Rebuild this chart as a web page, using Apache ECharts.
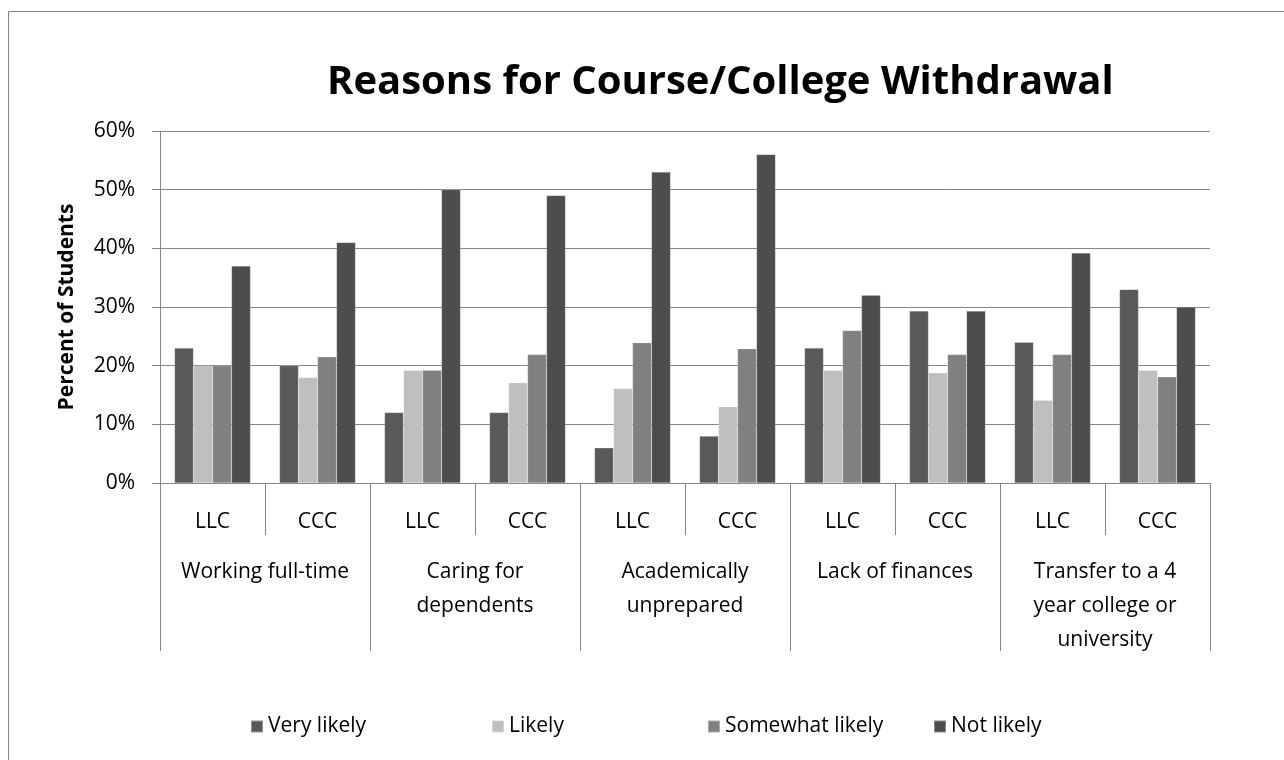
<!DOCTYPE html>
<html>
<head>
<meta charset="utf-8">
<title>Reasons for Course/College Withdrawal</title>
<script src="https://cdn.jsdelivr.net/npm/echarts@6/dist/echarts.min.js"></script>
<style>
  html, body { margin: 0; padding: 0; background: #fff; }
  #chart { width: 1284px; height: 760px; }
</style>
</head>
<body>
<div id="chart"></div>
<script>
// sub categories (college) and the reason groups they belong to
const colleges = ['LLC', 'CCC', 'LLC', 'CCC', 'LLC', 'CCC', 'LLC', 'CCC', 'LLC', 'CCC'];
const reasons = [
    'Working full-time',
    'Caring for\ndependents',
    'Academically\nunprepared',
    'Lack of finances',
    'Transfer to a 4\nyear college or\nuniversity'
];
const seriesNames = ['Very likely', 'Likely', 'Somewhat likely', 'Not likely'];

// percent of students
const veryLikely = [23, 20, 12, 12, 6, 8, 23, 29.3, 24, 33];
const likely = [20, 18, 19.2, 17.1, 16.1, 13, 19.2, 18.8, 14.1, 19.2];
const somewhatLikely = [20, 21.5, 19.2, 21.9, 23.9, 22.9, 26, 21.9, 21.9, 18.1];
const notLikely = [37, 41, 50, 49, 53, 56, 32, 29.3, 39.2, 30];

const yTicks = [0, 10, 20, 30, 40, 50, 60];

const colors = ['#595959', '#bfbfbf', '#808080', '#4d4d4d'];
const legendLeft = [245, 486, 702, 928];
const font = 'Open Sans';
const axisGrey = '#868686';

const chart = echarts.init(document.getElementById('chart'));

const values = [veryLikely, likely, somewhatLikely, notLikely];
const series = seriesNames.map((name, i) => ({
    name: name,
    type: 'bar',
    xAxisIndex: 0,
    barWidth: 19,
    barGap: '0%',
    itemStyle: { color: colors[i], borderColor: 'rgba(255,255,255,0.35)', borderWidth: 0.5 },
    data: values[i]
}));

const legends = seriesNames.map((name, i) => ({
    data: [name],
    left: legendLeft[i],
    top: 711,
    itemWidth: 12,
    itemHeight: 12,
    itemGap: 8,
    icon: 'rect',
    textStyle: { fontFamily: font, fontSize: 21, color: '#000' }
}));

chart.setOption({
    backgroundColor: '#fff',
    animation: false,
    title: {
        text: 'Reasons for Course/College Withdrawal',
        left: 322,
        top: 58,
        textStyle: { fontFamily: font, fontSize: 40, fontWeight: 'bold', color: '#000' }
    },
    graphic: [{
        type: 'rect',
        shape: { x: 8.5, y: 11.5, width: 1400, height: 900 },
        style: { fill: 'none', stroke: axisGrey, lineWidth: 1 },
        silent: true
    }],
    legend: legends,
    grid: { left: 160, right: 74, top: 131, bottom: 277 },
    xAxis: [{
        type: 'category',
        data: colleges,
        position: 'bottom',
        axisLine: { show: true, lineStyle: { color: axisGrey, width: 1 } },
        axisTick: { show: true, interval: 0, length: 52, lineStyle: { color: axisGrey } },
        axisLabel: { interval: 0, margin: 28, lineHeight: 22, fontFamily: font, fontSize: 21, color: '#000' }
    }, {
        type: 'category',
        data: reasons,
        position: 'bottom',
        offset: 0,
        axisLine: { show: false },
        axisTick: { show: true, interval: 0, length: 168, lineStyle: { color: axisGrey } },
        axisLabel: { interval: 0, margin: 72, lineHeight: 34, fontFamily: font, fontSize: 21, color: '#000' }
    }],
    yAxis: {
        type: 'value',
        min: 0,
        max: 60,
        interval: 10,
        name: 'Percent of Students',
        nameLocation: 'middle',
        nameGap: 82,
        nameTextStyle: { fontFamily: font, fontSize: 21, fontWeight: 'bold', color: '#000' },
        axisLine: { show: true, lineStyle: { color: axisGrey } },
        axisTick: { show: true, length: 8, lineStyle: { color: axisGrey } },
        axisLabel: {
            margin: 25,
            fontFamily: font,
            fontSize: 21,
            color: '#000',
            formatter: v => (yTicks.indexOf(v) >= 0 ? v + '%' : '')
        },
        splitLine: { lineStyle: { color: axisGrey, width: 1 } }
    },
    series: series
});
</script>
</body>
</html>
